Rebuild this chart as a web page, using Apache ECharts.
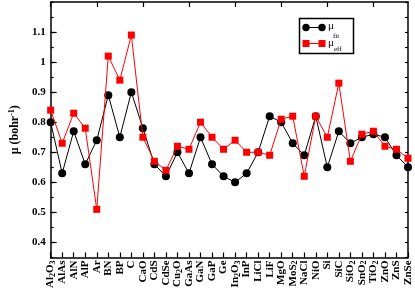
<!DOCTYPE html>
<html><head><meta charset="utf-8">
<script src="https://cdn.jsdelivr.net/npm/echarts@6/dist/echarts.min.js"></script>
<style>html,body{margin:0;padding:0;background:#fff}#c{width:415px;height:291px}</style>
</head><body><div id="c"></div>
<script>
const categories = ['Al2O3','AlAs','AlN','AlP','Ar','BN','BP','C','CaO','CdS','CdSe','Cu2O','GaAs','GaN','GaP','Ge','In2O3','InP','LiCl','LiF','MgO','MoS2','NaCl','NiO','Si','SiC','SiO2','SnO2','TiO2','ZnO','ZnS','ZnSe'];
const muValues = [0.80,0.63,0.77,0.66,0.74,0.89,0.75,0.90,0.78,0.66,0.62,0.70,0.63,0.75,0.66,0.62,0.60,0.63,0.70,0.82,0.80,0.73,0.69,0.82,0.65,0.77,0.73,0.75,0.76,0.75,0.69,0.65];
const muEffValues = [0.84,0.73,0.83,0.78,0.51,1.02,0.94,1.09,0.75,0.67,0.64,0.72,0.71,0.80,0.75,0.71,0.74,0.70,0.70,0.69,0.81,0.82,0.62,0.82,0.75,0.93,0.67,0.76,0.77,0.72,0.71,0.68];
const yTickLabels = [0.4,0.5,0.6,0.7,0.8,0.9,1,1.1];

const FONT = 'Liberation Serif';
const chart = echarts.init(document.getElementById('c'), null, {renderer:'canvas'});
const axisLine = {show:true, lineStyle:{color:'#000', width:1.5}};
chart.setOption({
  animation:false,
  backgroundColor:'#fff',
  grid:{left:40, right:7, top:2, bottom:31, containLabel:false},
  xAxis:[{
    type:'category', data:categories, boundaryGap:false, position:'bottom',
    axisLine:axisLine,
    axisTick:{show:true, inside:true, length:5, lineStyle:{color:'#000', width:1.2}},
    axisLabel:{rotate:90, margin:3, interval:0, color:'#000', fontFamily:FONT, fontWeight:'bold', fontSize:11,
      formatter:s=>s.replace(/(\d)/g,'{s|$1}'),
      rich:{s:{fontSize:8, fontFamily:FONT, fontWeight:'bold', color:'#000', verticalAlign:'bottom', padding:[5,0,0,0]}}},
    splitLine:{show:false}
  },{
    type:'category', data:categories, boundaryGap:false, position:'top',
    axisLine:axisLine,
    axisTick:{show:true, inside:true, length:5, lineStyle:{color:'#000', width:1.2}},
    axisLabel:{show:false}, splitLine:{show:false}
  }],
  yAxis:[{
    type:'value', min:0.35, max:1.2, interval:0.05, position:'left',
    axisLine:axisLine,
    axisTick:{show:true, inside:true, length:6, customValues:yTickLabels, lineStyle:{color:'#000', width:1.2}},
    axisLabel:{customValues:yTickLabels, margin:5, color:'#000', fontFamily:FONT, fontWeight:'bold', fontSize:11, formatter:v=>String(+v.toFixed(2))},
    splitLine:{show:false},
    name:'μ (bohr{sup|-1})', nameLocation:'middle', nameGap:27,
    nameTextStyle:{color:'#000', fontFamily:FONT, fontWeight:'bold', fontSize:12,
      rich:{sup:{fontSize:8, fontFamily:FONT, fontWeight:'bold', color:'#000', verticalAlign:'top', padding:[0,0,6,0]}}}
  },{
    type:'value', min:0.35, max:1.2, interval:0.05, position:'left',
    axisLine:{show:false},
    axisTick:{show:true, inside:true, length:3, lineStyle:{color:'#000', width:1.2}},
    axisLabel:{show:false}, splitLine:{show:false}
  },{
    type:'value', min:0.35, max:1.2, interval:0.05, position:'right',
    axisLine:axisLine,
    axisTick:{show:true, inside:true, length:3, lineStyle:{color:'#000', width:1.2}},
    axisLabel:{show:false}, splitLine:{show:false}
  }],
  series:[{
    name:'mu', type:'line', data:muValues, symbol:'circle', symbolSize:8,
    lineStyle:{color:'#000', width:1}, itemStyle:{color:'#000'}, z:2
  },{
    name:'mueff', type:'line', data:muEffValues, symbol:'rect', symbolSize:7,
    lineStyle:{color:'#ff0000', width:1}, itemStyle:{color:'#ff0000'}, z:3
  }],
  graphic:[
    {type:'rect', shape:{x:299.5, y:18.5, width:54, height:35}, style:{fill:'#fff', stroke:'#000', lineWidth:1.5}, z:10},
    {type:'line', shape:{x1:306, y1:27.5, x2:322, y2:27.5}, style:{stroke:'#000', lineWidth:1}, z:11},
    {type:'circle', shape:{cx:306, cy:27.5, r:3.7}, style:{fill:'#000'}, z:11},
    {type:'circle', shape:{cx:322, cy:27.5, r:3.7}, style:{fill:'#000'}, z:11},
    {type:'text', x:328, y:21, style:{text:'μ', fill:'#000', font:'11px "Liberation Serif"'}, z:11},
    {type:'line', shape:{x1:306, y1:43.5, x2:322, y2:43.5}, style:{stroke:'#ff0000', lineWidth:1}, z:11},
    {type:'rect', shape:{x:302.5, y:40, width:7, height:7}, style:{fill:'#ff0000'}, z:11},
    {type:'rect', shape:{x:318.5, y:40, width:7, height:7}, style:{fill:'#ff0000'}, z:11},
    {type:'text', x:328, y:38, style:{text:'μ', fill:'#000', font:'11px "Liberation Serif"'}, z:11},
    {type:'text', x:333, y:33, style:{text:'fit', fill:'#000', font:'7px "Liberation Serif"'}, z:11},
    {type:'text', x:334, y:46, style:{text:'eff', fill:'#000', font:'7px "Liberation Serif"'}, z:11}
  ]
});
</script></body></html>
